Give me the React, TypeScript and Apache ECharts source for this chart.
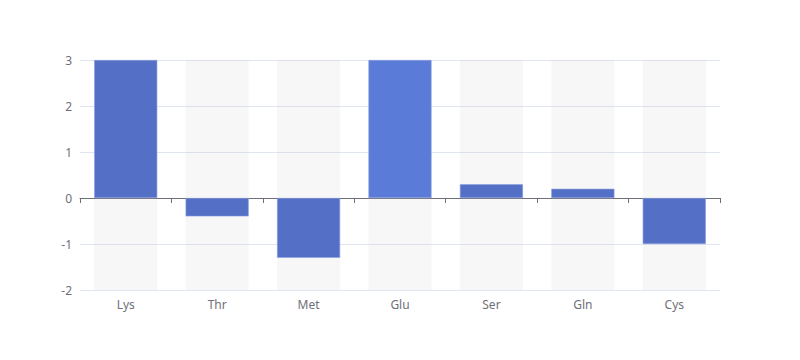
import React, { useEffect, useRef } from "react";
import * as echarts from "echarts";

const categories = ["Lys", "Thr", "Met", "Glu", "Ser", "Gln", "Cys"];
const values = [3, -0.4, -1.3, 3, 0.3, 0.2, -1.0];
const yTicks = { min: -2, max: 3, interval: 1 };

export default function App() {
  const ref = useRef<HTMLDivElement>(null);
  useEffect(() => {
    const chart = echarts.init(ref.current!, null, { renderer: "svg" });
    const font = "'Microsoft YaHei', 'Noto Sans', sans-serif";
    chart.setOption({
      animation: false,
      grid: { left: 80, right: 80, top: 60, bottom: 70 },
      xAxis: [
        {
          type: "category",
          data: categories,
          axisLine: { onZero: true, lineStyle: { color: "#6e7079" } },
          axisTick: { show: true },
          axisLabel: { show: false },
        },
        {
          type: "category",
          data: categories,
          position: "bottom",
          axisLine: { show: false, onZero: false },
          axisTick: { show: false },
          axisLabel: { color: "#6e7079", fontSize: 12, fontFamily: font },
        },
      ],
      yAxis: {
        type: "value",
        min: yTicks.min,
        max: yTicks.max,
        interval: yTicks.interval,
        axisLabel: { color: "#6e7079", fontSize: 12, fontFamily: font },
        splitLine: { lineStyle: { color: "#e0e6f1" } },
      },
      series: [
        {
          type: "bar",
          data: values.map((v, i) =>
            categories[i] === "Glu"
              ? { value: v, itemStyle: { color: "#5b7bd8" } }
              : v
          ),
          barWidth: "69%",
          showBackground: true,
          backgroundStyle: { color: "rgba(180,180,180,0.1)" },
          itemStyle: { color: "#5470c6", borderColor: "#8da0e0", borderWidth: 0.6 },
        },
      ],
    });
    return () => chart.dispose();
  }, []);
  return (
    <div
      ref={ref}
      style={{ position: "absolute", left: 0, top: 0, width: 800, height: 360 }}
    />
  );
}
